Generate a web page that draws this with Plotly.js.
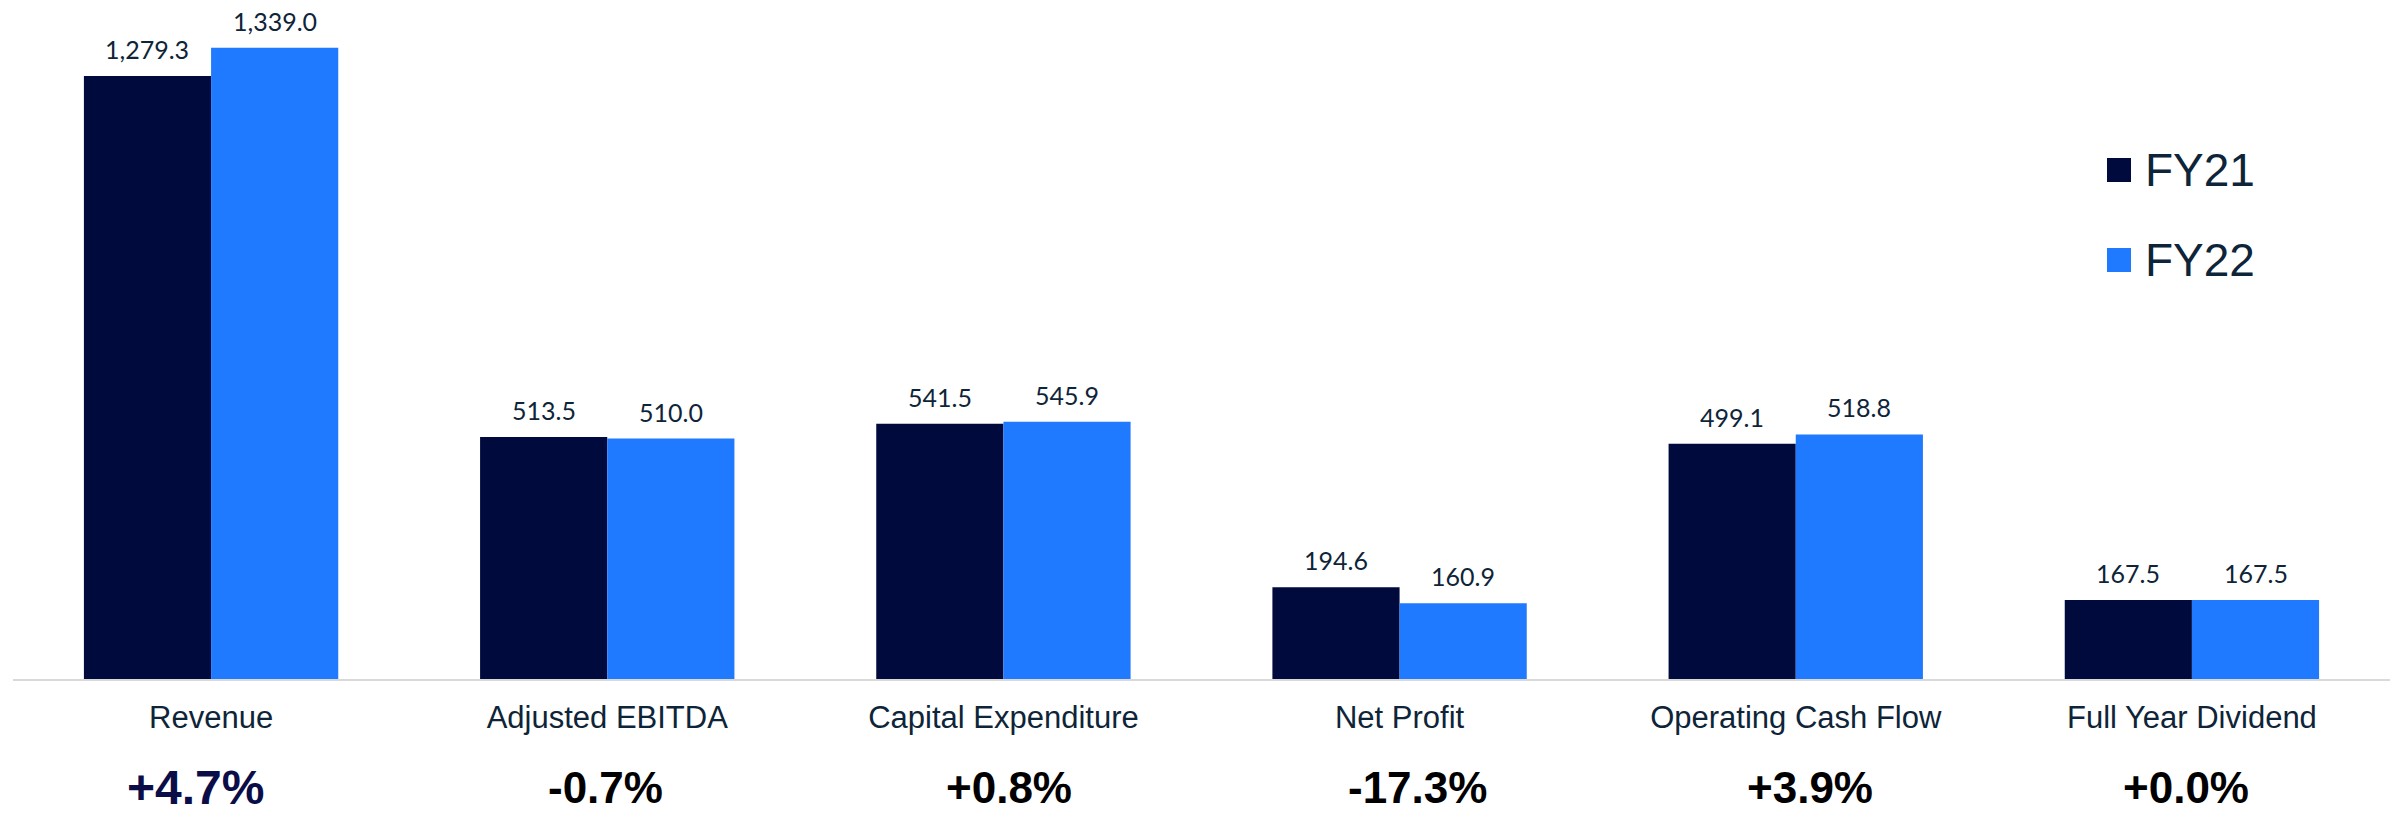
<!DOCTYPE html>
<html><head><meta charset="utf-8">
<script src="https://cdn.plot.ly/plotly-3.0.1.min.js"></script>
<style>html,body{margin:0;padding:0;background:#fff}#chart{width:2400px;height:814px}</style>
</head><body><div id="chart"></div>
<script>
// ---- data ----
const categories = ['Revenue', 'Adjusted EBITDA', 'Capital Expenditure', 'Net Profit', 'Operating Cash Flow', 'Full Year Dividend'];
const seriesNames = ['FY21', 'FY22'];
const fy21 = [1279.3, 513.5, 541.5, 194.6, 499.1, 167.5];
const fy22 = [1339.0, 510.0, 545.9, 160.9, 518.8, 167.5];
const changeLabels = ['+4.7%', '-0.7%', '+0.8%', '-17.3%', '+3.9%', '+0.0%'];

// ---- styles ----
const colors = ['#000a3c', '#1f7aff'];
const textColor = '#0e2438';
const changeColors = ['#0b0d48', '#000000', '#000000', '#000000', '#000000', '#000000'];
const changeSizes = [48, 44, 44, 44, 44, 44];
const changeShift = [-16, -2, 6, 18, 14, -6];
const W = 2400, H = 814;
const M = {l: 13, r: 10, t: 19, b: 135};
const bargap = 0.358;
const plotW = W - M.l - M.r, plotH = H - M.t - M.b;
const barW = plotW / categories.length * (1 - bargap) / 2;
const arial = 'Liberation Sans, Arial, sans-serif';

const traces = [fy21, fy22].map((vals, i) => ({
  type: 'bar', name: seriesNames[i], x: categories, y: vals,
  marker: {color: colors[i], line: {width: 0}},
  showlegend: false, hoverinfo: 'x+y+name'
}));

const px2x = p => (p - M.l) / plotW;
const px2y = p => (H - M.b - p) / plotH;

const annotations = [];
[fy21, fy22].forEach((vals, s) => {
  vals.forEach((v, i) => {
    annotations.push({
      x: categories[i], y: v, xref: 'x', yref: 'y',
      xshift: (s === 0 ? -1 : 1) * barW / 2, yshift: 27,
      text: v.toLocaleString('en-US', {minimumFractionDigits: 1, maximumFractionDigits: 1}),
      showarrow: false, xanchor: 'center', yanchor: 'middle',
      font: {family: 'Lato, Carlito, sans-serif', size: 25, color: textColor}
    });
  });
});
changeLabels.forEach((t, i) => {
  annotations.push({
    x: categories[i], y: px2y(788), xshift: changeShift[i],
    xref: 'x', yref: 'paper', text: '<b>' + t + '</b>', showarrow: false,
    xanchor: 'center', yanchor: 'middle',
    font: {family: arial, size: changeSizes[i], color: changeColors[i]}
  });
});
// custom legend
const legendY = [170, 260];
const shapes = [];
seriesNames.forEach((n, i) => {
  shapes.push({type: 'rect', xref: 'paper', yref: 'paper',
    x0: px2x(2107), x1: px2x(2131), y0: px2y(legendY[i] - 12), y1: px2y(legendY[i] + 12),
    fillcolor: colors[i], line: {width: 0}});
  annotations.push({xref: 'paper', yref: 'paper', x: px2x(2143), y: px2y(legendY[i]),
    xanchor: 'left', yanchor: 'middle', showarrow: false, text: n,
    font: {family: arial, size: 46, color: textColor}});
});

const layout = {
  width: W, height: H, margin: {l: M.l, r: M.r, t: M.t, b: M.b, pad: 0},
  paper_bgcolor: '#ffffff', plot_bgcolor: '#ffffff',
  barmode: 'group', bargap: bargap, bargroupgap: 0,
  showlegend: false,
  xaxis: {type: 'category', showline: true, linecolor: '#d9d9d9', linewidth: 2,
    ticks: '', showgrid: false, zeroline: false, ticklabelstandoff: 10,
    tickfont: {family: arial, size: 31, color: textColor}, fixedrange: true},
  yaxis: {range: [0, 1400], visible: false, showgrid: false, zeroline: false, fixedrange: true},
  annotations: annotations, shapes: shapes
};
Plotly.newPlot('chart', traces, layout, {displayModeBar: false, staticPlot: true});
</script>
</body></html>
